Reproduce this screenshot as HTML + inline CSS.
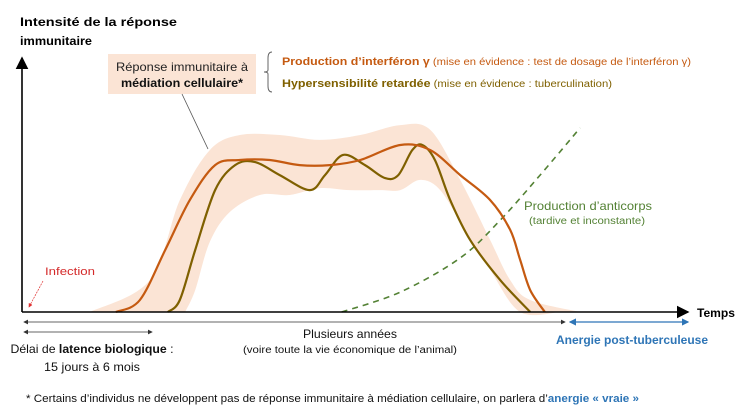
<!DOCTYPE html>
<html><head><meta charset="utf-8"><style>
html,body{margin:0;padding:0;background:#fff;}
svg{display:block;font-family:"Liberation Sans",sans-serif;}
</style></head><body>
<svg id="chart" width="744" height="418" viewBox="0 0 744 418" xmlns="http://www.w3.org/2000/svg">
<defs>
<marker id="ah" markerWidth="8" markerHeight="8" refX="7" refY="4" orient="auto"><path d="M0,0 L8,4 L0,8 z" fill="#000"/></marker>
<marker id="sh" markerWidth="6" markerHeight="6" refX="5" refY="3" orient="auto-start-reverse"><path d="M0,0 L6,3 L0,6 z" fill="#333"/></marker>
<marker id="bh" markerWidth="6" markerHeight="6" refX="5" refY="3" orient="auto-start-reverse"><path d="M0,0 L6,3 L0,6 z" fill="#2e75b6"/></marker>
<marker id="rh" markerWidth="6" markerHeight="6" refX="5" refY="3" orient="auto"><path d="M0,0 L6,3 L0,6 z" fill="#e03030"/></marker>
</defs>
<g id="marks"></g>
<line x1="22" y1="312" x2="22" y2="58" stroke="#000" stroke-width="1.6" marker-end="url(#ah)"/>
<line x1="22" y1="312" x2="688" y2="312" stroke="#000" stroke-width="1.6" marker-end="url(#ah)"/>
<text x="20" y="26" font-size="12" font-weight="bold" textLength="157" lengthAdjust="spacingAndGlyphs">Intensité de la réponse</text>
<text x="20" y="45" font-size="12" font-weight="bold" textLength="72" lengthAdjust="spacingAndGlyphs">immunitaire</text>
<text x="697" y="317" font-size="12" font-weight="bold" textLength="38" lengthAdjust="spacingAndGlyphs">Temps</text>
<rect x="108" y="54" width="148" height="40" fill="#fbe4d5"/>
<text x="182" y="71" font-size="12" text-anchor="middle" fill="#222" textLength="132" lengthAdjust="spacingAndGlyphs">Réponse immunitaire à</text>
<text x="182" y="87" font-size="12" font-weight="bold" text-anchor="middle" fill="#111" textLength="122" lengthAdjust="spacingAndGlyphs">médiation cellulaire*</text>
<line x1="182" y1="94" x2="208" y2="149" stroke="#555" stroke-width="0.8"/>
<path d="M272,52 Q268,52 268,58 L268,70 Q268,72 264,72 Q268,72 268,74 L268,86 Q268,92 272,92" fill="none" stroke="#666" stroke-width="1"/>
<text x="282" y="65" font-size="11" fill="#c55a11" textLength="409" lengthAdjust="spacingAndGlyphs"><tspan font-weight="bold">Production d’interféron γ</tspan><tspan font-size="10"> (mise en évidence : test de dosage de l’interféron γ)</tspan></text>
<text x="282" y="87" font-size="11" fill="#7f6000" textLength="330" lengthAdjust="spacingAndGlyphs"><tspan font-weight="bold">Hypersensibilité retardée</tspan><tspan font-size="10"> (mise en évidence : tuberculination)</tspan></text>
<text x="524" y="210" font-size="12" fill="#548235" textLength="128" lengthAdjust="spacingAndGlyphs">Production d’anticorps</text>
<text x="529" y="224" font-size="10" fill="#548235" textLength="116" lengthAdjust="spacingAndGlyphs">(tardive et inconstante)</text>
<text x="45" y="275" font-size="11" fill="#d42a2a" textLength="50" lengthAdjust="spacingAndGlyphs">Infection</text>
<line x1="43" y1="281" x2="29" y2="307" stroke="#e03030" stroke-width="0.7" stroke-dasharray="2,1" marker-end="url(#rh)"/>
<line x1="24" y1="322" x2="565" y2="322" stroke="#333" stroke-width="0.8" marker-start="url(#sh)" marker-end="url(#sh)"/>
<line x1="24" y1="332" x2="152" y2="332" stroke="#333" stroke-width="0.8" marker-start="url(#sh)" marker-end="url(#sh)"/>
<line x1="570" y1="322" x2="688" y2="322" stroke="#2e75b6" stroke-width="1.2" marker-start="url(#bh)" marker-end="url(#bh)"/>
<text x="350" y="338" font-size="12" text-anchor="middle" fill="#111" textLength="94" lengthAdjust="spacingAndGlyphs">Plusieurs années</text>
<text x="350" y="353" font-size="10" text-anchor="middle" fill="#111" textLength="214" lengthAdjust="spacingAndGlyphs">(voire toute la vie économique de l’animal)</text>
<text x="92" y="353" font-size="12" text-anchor="middle" fill="#111" textLength="163" lengthAdjust="spacingAndGlyphs">Délai de <tspan font-weight="bold">latence biologique</tspan> :</text>
<text x="92" y="371" font-size="12" text-anchor="middle" fill="#111" textLength="96" lengthAdjust="spacingAndGlyphs">15 jours à 6 mois</text>
<text x="632" y="344" font-size="12" font-weight="bold" text-anchor="middle" fill="#2e75b6" textLength="152" lengthAdjust="spacingAndGlyphs">Anergie post-tuberculeuse</text>
<text x="26" y="402" font-size="11" fill="#111" textLength="613" lengthAdjust="spacingAndGlyphs">* Certains d’individus ne développent pas de réponse immunitaire à médiation cellulaire, on parlera d’<tspan fill="#2e75b6" font-weight="bold">anergie « vraie »</tspan></text>
</svg>
<script>
const orangeX=[14.1,17.7,21.5,25.2,29,32.7,37.2,41.7,46.2,50.8,56.8,61.3,65.8,70.3,73.3,74.8,76.3,78.5];
const orangeY=[0,4.7,24.3,43.9,57.6,59.6,59.6,57.6,57.6,59.6,65.5,63.5,53.7,43.9,32.2,20.4,8.6,0];
const oliveX=[21.9,23.7,26,29,32,35,38.7,43.2,45.5,48.2,51.5,54.5,56.5,58.6,60.1,62,64.3,67.3,71.8,76.3];
const oliveY=[0,4.7,24.3,47.8,57.6,58.8,53.7,47.8,53.7,61.6,57.6,52.5,53.7,63.5,65.5,59.6,43.9,28.2,12.5,0];
const bandUpperX=[10.2,19.2,23.7,28.2,32.7,38.7,44.7,50.8,56.8,61.3,65.8,70.3,73.3,76.3,83.8];
const bandUpperY=[0,12.5,43.9,63.5,69.4,69.4,67.5,69.4,73.3,71.4,51.8,28.2,12.5,4.7,0];
const bandLowerX=[80.8,74.8,70.3,66.5,62.8,59.8,56.8,53.8,49.2,44.7,40.2,35.7,31.2,28.2,26,24.5];
const bandLowerY=[0,0,16.5,32.2,47.8,51.8,47.8,47.8,47.8,48.6,45.9,45.9,39.2,27.5,8.6,0];
const abX=[48,56.8,65.8,71.8,77.8,83.8];
const abY=[0,7.8,21.2,36,53.7,72.2];
const xs=v=>22+v*6.66, ys=v=>312-v*2.55;
function pts(X,Y){return X.map((x,i)=>[xs(x),ys(Y[i])]);}
function smooth(p,move){let d=(move?'M':'L')+p[0][0].toFixed(1)+','+p[0][1].toFixed(1);
for(let i=0;i<p.length-1;i++){const p0=p[Math.max(0,i-1)],p1=p[i],p2=p[i+1],p3=p[Math.min(p.length-1,i+2)];
const c1=[p1[0]+(p2[0]-p0[0])/6,p1[1]+(p2[1]-p0[1])/6],c2=[p2[0]-(p3[0]-p1[0])/6,p2[1]-(p3[1]-p1[1])/6];
d+=` C${c1[0].toFixed(1)},${c1[1].toFixed(1)} ${c2[0].toFixed(1)},${c2[1].toFixed(1)} ${p2[0].toFixed(1)},${p2[1].toFixed(1)}`;}return d;}
const g=document.getElementById('marks');const NS='http://www.w3.org/2000/svg';
const band=document.createElementNS(NS,'path');


band.setAttribute('d',smooth(pts(bandUpperX,bandUpperY),true)+smooth(pts(bandLowerX,bandLowerY),false).replace(/^L[^ ]+/,m=>m)+'Z');
band.setAttribute('fill','#fbe4d5');g.appendChild(band);
const ab=document.createElementNS(NS,'path');


ab.setAttribute('d',smooth(pts(abX,abY),true));ab.setAttribute('fill','none');ab.setAttribute('stroke','#548235');ab.setAttribute('stroke-width','1.6');ab.setAttribute('stroke-dasharray','6,5');g.appendChild(ab);
const ol=document.createElementNS(NS,'path');


ol.setAttribute('d',smooth(pts(oliveX,oliveY),true));ol.setAttribute('fill','none');ol.setAttribute('stroke','#7f6000');ol.setAttribute('stroke-width','2.2');g.appendChild(ol);
const or=document.createElementNS(NS,'path');


or.setAttribute('d',smooth(pts(orangeX,orangeY),true));or.setAttribute('fill','none');or.setAttribute('stroke','#c55a11');or.setAttribute('stroke-width','2.2');g.appendChild(or);
</script>
</body></html>
